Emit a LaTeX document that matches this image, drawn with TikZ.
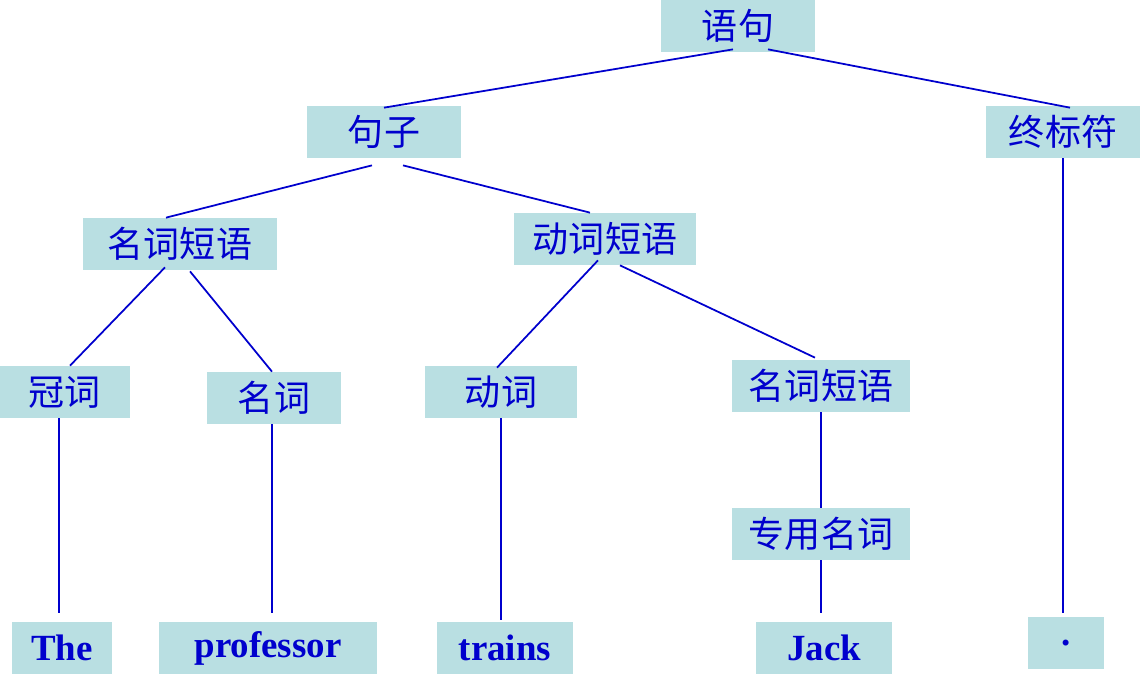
\documentclass[tikz,border=0pt]{standalone}
\usepackage{fontspec}
\setmainfont{Liberation Serif}
\newfontfamily\cjk{Noto Sans CJK SC}
\usetikzlibrary{positioning}
\definecolor{boxfill}{RGB}{185,223,226}
\definecolor{inkblue}{RGB}{0,0,205}

\begin{document}
\begin{tikzpicture}[x=0.02cm,y=-0.02cm,cat/.style={rectangle,fill=boxfill,text=inkblue,minimum height=1.04cm,inner sep=0pt,font=\cjk\fontsize{20.5}{24}\selectfont},word/.style={rectangle,fill=boxfill,text=inkblue,minimum height=1.04cm,inner sep=0pt,font=\fontsize{21}{24}\selectfont\bfseries},edge/.style={draw=inkblue,line width=1pt}]
\useasboundingbox (0,0) rectangle (1140,674);
\node[cat,minimum width=3.08cm] (root) at (738,26) {语句};
\node[cat,minimum width=3.08cm] (sent) at (384,132) {句子};
\node[cat,minimum width=3.08cm] (fin) at (1063,132) {终标符};
\node[cat,minimum width=3.88cm] (np1) at (180,244) {名词短语};
\node[cat,minimum width=3.66cm] (vp) at (605,239) {动词短语};
\node[cat,minimum width=2.6cm] (art) at (65,392) {冠词};
\node[cat,minimum width=2.7cm] (noun) at (274,398) {名词};
\node[cat,minimum width=3.06cm] (verb) at (501,392) {动词};
\node[cat,minimum width=3.56cm] (np2) at (821,386) {名词短语};
\node[cat,minimum width=3.56cm] (pn) at (821,534) {专用名词};
\node[word,minimum width=2.0cm] (the) at (62,648) {The};
\node[word,minimum width=4.38cm] (prof) at (268,648) {professor};
\node[word,minimum width=2.72cm] (trains) at (505,648) {trains};
\node[word,minimum width=2.72cm] (jack) at (824,648) {Jack};
\node[word,minimum width=1.52cm] (dot) at (1066,643) {.};
\draw[edge] ([shift={(-5,-3)}]root.south) -- ([shift={(0,2)}]sent.north);
\draw[edge] ([shift={(30,-3)}]root.south) -- ([shift={(7,2)}]fin.north);
\draw[edge] ([shift={(-12,7)}]sent.south) -- ([shift={(-14,0)}]np1.north);
\draw[edge] ([shift={(19,7)}]sent.south) -- ([shift={(-15,0)}]vp.north);
\draw[edge] ([shift={(-15,-3)}]np1.south) -- ([shift={(5,0)}]art.north);
\draw[edge] ([shift={(10,1)}]np1.south) -- ([shift={(-2,0)}]noun.north);
\draw[edge] ([shift={(-7,-5)}]vp.south) -- ([shift={(-4,2)}]verb.north);
\draw[edge] ([shift={(15,0)}]vp.south) -- ([shift={(-6,-2)}]np2.north);
\draw[edge] ([shift={(-6,0)}]art.south) -- ([shift={(-3,-9)}]the.north);
\draw[edge] ([shift={(-2,0)}]noun.south) -- ([shift={(4,-9)}]prof.north);
\draw[edge] (verb.south) -- ([shift={(-4,-2)}]trains.north);
\draw[edge] (np2.south) -- (pn.north);
\draw[edge] (pn.south) -- ([shift={(-3,-9)}]jack.north);
\draw[edge] (fin.south) -- ([shift={(-3,-4)}]dot.north);
\end{tikzpicture}
\end{document}
